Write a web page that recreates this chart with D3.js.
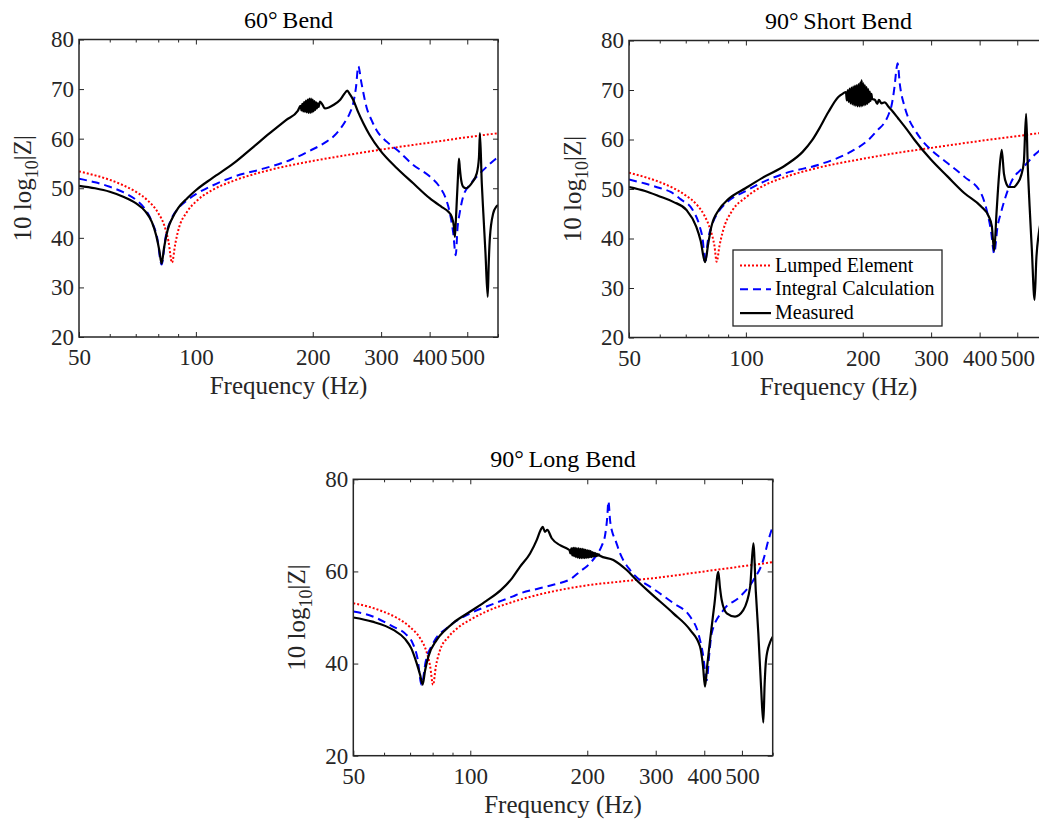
<!DOCTYPE html>
<html>
<head>
<meta charset="utf-8">
<script src="https://cdn.jsdelivr.net/npm/d3@7"></script>
<style>
  body { margin: 0; background: #fff; }
  svg text { font-family: "Liberation Serif", "Times New Roman", serif; fill: #262626; }
  .tick text { font-size: 23px; }
  .title { font-size: 24px; fill: #000; }
  .label { font-size: 25px; }
  .legend text { font-size: 20px; fill: #000; }
</style>
</head>
<body>
<svg id="chart" width="1039" height="820"></svg>
<script>
// axis ticks and labels
var xMajor = [50, 100, 200, 300, 400, 500];
var xMinor = [60, 70, 80, 90, 600];
var yTicksFine = [20, 30, 40, 50, 60, 70, 80];
var yTicksCoarse = [20, 40, 60, 80];
var titles = ["60°\u2009Bend", "90°\u2009Short Bend", "90°\u2009Long Bend"];
var seriesNames = ["Lumped Element", "Integral Calculation", "Measured"];

// 60 deg bend: [frequency Hz, 10 log10|Z|]
var bend60Lumped = [[50,53.4],[55,52.6],[60,51.7],[65,50.6],[70,49.3],[75,47.6],[80,45.0],[83,42.4],[85,39.3],[86.8,35.0],[88.5,38.8],[90,41.4],[95,45.3],[100,47.3],[110,49.6],[125,51.5],[150,53.4],[200,55.5],[250,56.8],[300,57.8],[400,59.2],[500,60.3],[600,61.1]];
var bend60Integral = [[50,51.9],[55,51.2],[60,50.3],[65,49.2],[70,47.7],[74,45.8],[77,43.3],[79.5,40.0],[81.6,34.6],[83.5,40.0],[86,43.4],[90,45.9],[95,47.6],[100,48.8],[110,50.5],[125,52.3],[150,54.0],[175,55.7],[197,57.6],[215,59.2],[230,61.0],[243,63.6],[249,65.1],[254,67.0],[258.5,70.4],[262,74.6],[267,71.2],[275,66.4],[284,63.6],[292,61.7],[310,59.4],[330,57.7],[363,54.7],[400,52.4],[425,50.2],[440,48.0],[451,45.0],[460,41.0],[467,36.5],[472,42.0],[478,45.0],[488,48.3],[510,50.9],[539,53.0],[570,54.8],[594,56.0],[600,56.2]];
var bend60Measured = [[50,50.5],[55,50.0],[60,49.3],[65,48.3],[70,47.0],[74,45.4],[77,43.2],[79,40.5],[80.5,37.5],[81.6,34.8],[82.8,38.0],[84.6,41.6],[87,44.0],[90,46.0],[95,48.0],[100,49.6],[110,52.0],[125,55.0],[140,58.2],[155,61.1],[171,63.8],[183,65.6],[186,66.6],[187,65.7],[188,67.0],[189,65.5],[190,67.4],[191,65.4],[192,67.7],[193,65.3],[194,67.9],[195,65.2],[196,68.1],[197,65.2],[198,68.1],[199,65.3],[200,67.9],[201,65.5],[202,67.6],[203,65.8],[204,67.3],[205,66.1],[206,67.1],[207,66.4],[208.8,67.5],[212,66.8],[215,66.1],[220,66.3],[226,66.8],[235,67.8],[241,69.0],[245.4,69.7],[249,69.0],[254.3,67.8],[262,65.3],[270,63.1],[280,60.8],[298,57.7],[330,54.0],[363,51.0],[400,48.0],[430,46.2],[446.5,45.3],[455.8,44.3],[462,42.2],[464.6,40.2],[467,43.0],[470,47.6],[473,52.0],[476,56.0],[478.5,54.0],[481,52.3],[488,50.3],[496,50.0],[513,51.0],[529,53.0],[536,56.3],[539,61.1],[545,51.0],[550,45.0],[557,37.0],[564.5,28.1],[568,35.0],[572,40.2],[583,44.9],[594,46.3],[600,46.6]];

// 90 deg short bend
var short90Lumped = [[50,53.3],[55,52.4],[60,51.4],[65,50.2],[70,48.7],[75,46.7],[78,44.8],[81,41.8],[83,38.5],[84.1,35.3],[85.5,38.5],[87.5,41.8],[92,45.5],[100,48.3],[110,50.5],[125,52.3],[150,54.1],[200,56.1],[250,57.4],[300,58.3],[400,59.7],[500,60.7],[600,61.5]];
var short90Integral = [[50,51.9],[55,51.1],[60,50.2],[64,49.4],[68,47.9],[72.9,45.8],[76,42.5],[77.5,39.5],[78.5,35.0],[79.8,39.5],[82,43.0],[85.2,45.5],[90,47.5],[100,49.6],[110,51.3],[126.5,53.2],[154,54.9],[187,57.6],[206.7,59.9],[219,62.0],[227,63.3],[233,65.0],[237,66.7],[241.5,70.7],[244.5,74.5],[246,75.4],[249,71.4],[256.6,66.5],[264,63.8],[272,62.0],[285,59.7],[300,57.9],[331,55.2],[365,52.5],[403,49.2],[419,45.1],[428,41.5],[436,37.0],[445,42.5],[453.5,45.1],[481,51.2],[520,54.5],[556,57.0],[600,59.0]];
var short90Measured = [[50,50.4],[55,49.6],[60,48.5],[65,47.4],[70.2,45.8],[74.5,42.4],[76.5,39.5],[78.5,35.2],[80,39.0],[81.5,42.4],[85.2,45.8],[90,47.9],[100,50.2],[110,52.2],[126.5,54.8],[140,57.5],[148,59.8],[154,62.0],[163,65.5],[173,68.6],[178,69.3],[181,69.6],[182,67.9],[183,70.0],[184,67.6],[185,70.3],[186,67.3],[187,70.5],[188,67.1],[189,70.7],[190,66.9],[191,70.9],[192,66.8],[193,71.0],[194,66.7],[195,71.2],[196,66.7],[197,71.5],[198,66.7],[198.6,72.0],[199.5,66.8],[200.5,71.4],[201.5,66.9],[202.5,71.0],[203.5,67.0],[204.5,70.6],[205.5,67.2],[206.5,70.2],[207.5,67.5],[208.5,69.7],[209.5,67.8],[210.5,69.2],[211.5,68.2],[215,68.0],[218,67.2],[220,68.0],[223.6,67.3],[228,67.5],[232.5,66.7],[238,65.8],[246.6,64.3],[260,62.0],[272,59.9],[300,55.9],[331,52.5],[365,49.2],[403,46.5],[422,44.5],[430,42.5],[436,37.5],[442,45.0],[449,53.0],[456,57.9],[462,53.1],[469,51.0],[476,50.4],[490,50.4],[500,51.1],[512,52.8],[520,55.5],[527,65.2],[532,55.0],[538,46.5],[545,38.0],[554,27.6],[560,36.0],[568,41.0],[580,44.5],[600,46.5]];

// 90 deg long bend
var long90Lumped = [[50,53.1],[55,52.3],[60,51.2],[64.5,50.0],[70,47.9],[74.4,45.4],[77,42.8],[78.8,39.5],[80.2,35.4],[81.6,39.5],[83.5,42.8],[87.9,45.8],[93,47.8],[100,49.5],[110,51.3],[128.8,53.4],[156,55.3],[197,56.9],[250,57.9],[300,58.6],[400,60.0],[500,61.1],[600,62.0]];
var long90Integral = [[50,51.3],[55,50.5],[63.3,48.0],[68,46.5],[71.1,44.4],[73.2,41.0],[74.9,35.4],[76.8,40.5],[80.2,44.4],[87.9,48.0],[100,50.9],[115,53.0],[128.8,54.6],[134,55.2],[150,56.3],[163.5,57.1],[183,58.6],[191.6,60.0],[200,61.2],[211.4,63.6],[218,65.6],[222.2,67.8],[225,71.5],[226.7,75.2],[229,71.0],[232,68.5],[235.8,67.0],[242.9,63.9],[257.7,60.3],[273.4,58.1],[290,56.7],[333,53.1],[367.8,50.2],[386,46.6],[397,42.0],[406,36.4],[412,42.0],[418,46.6],[448,51.6],[494,54.5],[535,58.1],[567.6,62.5],[585,66.8],[602,70.1]];
var long90Measured = [[50,50.0],[56,49.1],[63.4,47.3],[68,45.3],[70.5,43.3],[72.7,40.2],[74.3,37.5],[75.4,35.4],[76.5,38.5],[78,41.5],[81.9,45.1],[86,47.2],[90.3,48.8],[100,51.3],[110,53.6],[120,56.0],[128,58.5],[134.2,61.0],[142.5,63.9],[148.2,66.8],[151.7,69.0],[153.6,69.7],[155.6,68.6],[157.8,69.0],[162,67.2],[170.2,65.7],[178,64.9],[180,64.6],[181,63.9],[182,65.0],[183,63.5],[184,65.1],[185,63.3],[186,65.1],[187,63.1],[188,65.0],[189,63.0],[190,65.0],[191,62.9],[192,64.9],[193,62.9],[194,64.9],[195,62.9],[196,64.8],[197,62.9],[198,64.7],[199,63.0],[200,64.6],[201,63.0],[202,64.5],[203,63.1],[204,64.4],[205,63.1],[206,64.2],[207,63.2],[208,64.1],[209,63.3],[210,64.0],[211,63.3],[212,63.8],[213,63.4],[214,63.7],[215.6,63.4],[233.4,62.5],[252.6,60.3],[268,58.1],[290,55.4],[333,50.9],[367.8,47.3],[390,43.7],[397,39.5],[401.8,35.0],[407,39.5],[414,45.1],[425,53.0],[434.7,59.9],[439,56.5],[443.5,53.8],[457,50.9],[480,50.2],[504,51.6],[525,56.7],[535,66.1],[543,55.5],[551,46.6],[560,35.0],[567.6,27.2],[572,35.5],[576.8,40.8],[590,44.5],[600,45.8]];

var styles = [
  {color: "#ff0000", dash: "2,2", width: 2},
  {color: "#0000ff", dash: "8,5", width: 2},
  {color: "#000000", dash: null, width: 2.2}
];

var panels = [
  {id: 0, left: 79, top: 39.5, w: 419, h: 297.5, yTicks: yTicksFine,
   series: [bend60Lumped, bend60Integral, bend60Measured], legend: false},
  {id: 1, left: 629, top: 40.5, w: 419, h: 297, yTicks: yTicksFine,
   series: [short90Lumped, short90Integral, short90Measured], legend: true},
  {id: 2, left: 353.3, top: 479.3, w: 419.4, h: 276.4, yTicks: yTicksCoarse,
   series: [long90Lumped, long90Integral, long90Measured], legend: false}
];

var svg = d3.select("#chart");
svg.append("rect").attr("width", 1039).attr("height", 820).attr("fill", "#fff");

panels.forEach(drawPanel);

function drawPanel(p) {
  var w = p.w, h = p.h;
  var g = svg.append("g").attr("transform", "translate(" + p.left + "," + p.top + ")");

  var x = d3.scaleLog().domain([50, 600]).range([0, w]);
  var y = d3.scaleLinear().domain([20, 80]).range([h, 0]);

  g.append("clipPath").attr("id", "clip" + p.id)
    .append("rect").attr("width", w).attr("height", h);

  var line = d3.line()
    .x(function(d) { return x(d[0]); })
    .y(function(d) { return y(d[1]); })
    .curve(d3.curveMonotoneX);

  var plot = g.append("g").attr("clip-path", "url(#clip" + p.id + ")");
  p.series.forEach(function(s, i) {
    plot.append("path")
      .datum(s)
      .attr("d", line)
      .attr("fill", "none")
      .attr("stroke", styles[i].color)
      .attr("stroke-width", styles[i].width)
      .attr("stroke-dasharray", styles[i].dash)
      .attr("stroke-linejoin", "round");
  });

  function clean(sel) {
    sel.select(".domain").remove();
    sel.attr("color", "#262626");
  }

  // bottom axis with labels
  g.append("g").attr("transform", "translate(0," + h + ")")
    .call(d3.axisBottom(x).tickValues(xMajor).tickFormat(d3.format("d")).tickSize(-5).tickPadding(12))
    .call(clean);
  g.append("g").attr("transform", "translate(0," + h + ")")
    .call(d3.axisBottom(x).tickValues(xMinor).tickFormat("").tickSize(-3))
    .call(clean);
  // top axis, ticks only
  g.append("g")
    .call(d3.axisTop(x).tickValues(xMajor).tickFormat("").tickSize(-5))
    .call(clean);
  g.append("g")
    .call(d3.axisTop(x).tickValues(xMinor).tickFormat("").tickSize(-3))
    .call(clean);
  // left axis with labels
  g.append("g")
    .call(d3.axisLeft(y).tickValues(p.yTicks).tickFormat(d3.format("d")).tickSize(-5).tickPadding(5))
    .call(clean);
  // right axis, ticks only
  g.append("g").attr("transform", "translate(" + w + ",0)")
    .call(d3.axisRight(y).tickValues(p.yTicks).tickFormat("").tickSize(-5))
    .call(clean);

  g.append("rect")
    .attr("width", w).attr("height", h)
    .attr("fill", "none")
    .attr("stroke", "#262626")
    .attr("stroke-width", 1.5);

  g.append("text")
    .attr("class", "title")
    .attr("x", w / 2).attr("y", -12)
    .attr("text-anchor", "middle")
    .text(titles[p.id]);

  g.append("text")
    .attr("class", "label")
    .attr("x", w / 2).attr("y", h + 57)
    .attr("text-anchor", "middle")
    .text("Frequency (Hz)");

  var yl = g.append("text")
    .attr("class", "label")
    .attr("transform", "translate(-48," + (h / 2) + ") rotate(-90)")
    .attr("text-anchor", "middle");
  yl.append("tspan").text("10 log");
  yl.append("tspan").attr("dy", 7).attr("font-size", "18px").text("10");
  yl.append("tspan").attr("dy", -7).text("|Z|");

  if (p.legend) {
    var lg = g.append("g").attr("class", "legend").attr("transform", "translate(104,209.5)");
    lg.append("rect")
      .attr("width", 209).attr("height", 76)
      .attr("fill", "#fff")
      .attr("stroke", "#262626")
      .attr("stroke-width", 1.3);
    seriesNames.forEach(function(name, i) {
      var row = lg.append("g").attr("transform", "translate(0," + (21.5 + i * 23.8) + ")");
      row.append("line")
        .attr("x1", 7).attr("x2", 38)
        .attr("y1", -6).attr("y2", -6)
        .attr("stroke", styles[i].color)
        .attr("stroke-width", styles[i].width)
        .attr("stroke-dasharray", styles[i].dash);
      row.append("text").attr("x", 42).attr("y", 0).text(name);
    });
  }
}
</script>
</body>
</html>
